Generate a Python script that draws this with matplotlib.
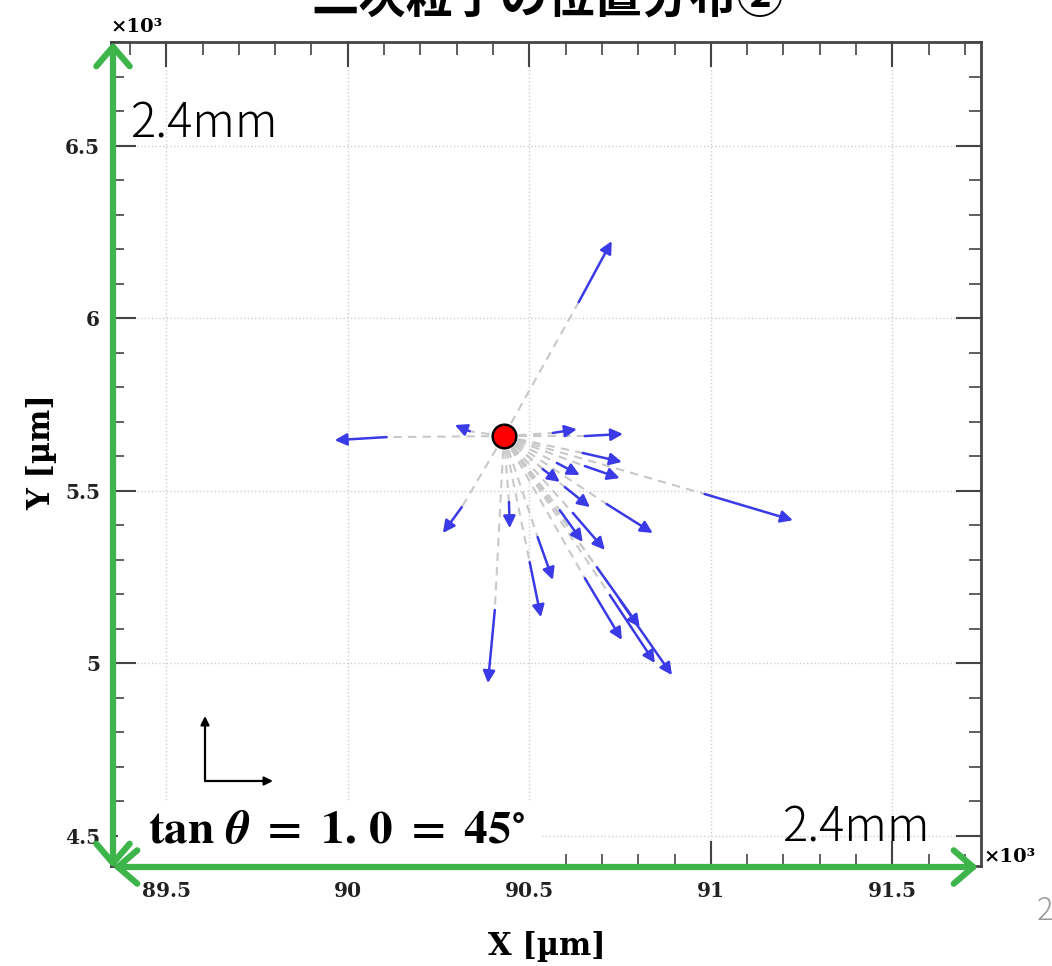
import numpy as np
import matplotlib
matplotlib.use("Agg")
import matplotlib.pyplot as plt
from matplotlib.patches import FancyArrowPatch, Rectangle
from matplotlib.ticker import MultipleLocator, FuncFormatter

plt.rcParams['mathtext.fontset'] = 'stix'

# data in units of 10^3 um
origin_x = 90.430
origin_y = 5.658

# start (tail) and end (tip) of each secondary particle track
tail_x = [90.107, 90.336, 90.636, 90.565, 90.653, 90.647, 90.653, 90.576, 90.537, 90.598,
          90.713, 90.983, 90.314, 90.444, 90.584, 90.620, 90.523, 90.501, 90.405, 90.653,
          90.686, 90.722, 90.749]
tail_y = [5.655, 5.672, 6.046, 5.667, 5.658, 5.609, 5.571, 5.580, 5.562, 5.510,
          5.461, 5.490, 5.452, 5.467, 5.443, 5.435, 5.365, 5.293, 5.154, 5.246,
          5.278, 5.197, 5.183]
tip_x = [89.964, 90.295, 90.727, 90.631, 90.758, 90.755, 90.749, 90.639, 90.584, 90.667,
         90.840, 91.226, 90.262, 90.446, 90.647, 90.708, 90.565, 90.532, 90.386, 90.755,
         90.804, 90.846, 90.893]
tip_y = [5.646, 5.690, 6.223, 5.678, 5.664, 5.583, 5.536, 5.545, 5.525, 5.452,
         5.377, 5.414, 5.377, 5.391, 5.351, 5.328, 5.241, 5.133, 4.942, 5.067,
         5.104, 5.000, 4.965]

xlim = (89.348, 91.744)
ylim = (4.412, 6.800)

W, H = 1052, 966
green = '#3db54a'
serif = 'DejaVu Serif'
jp = ['Noto Sans CJK JP', 'DejaVu Sans']


def fxy(px, py):
    # top-left pixel position -> figure fraction
    return px / W, 1 - py / H


fig = plt.figure(figsize=(W / 100, H / 100), dpi=100)
ax = fig.add_axes([111 / W, 1 - 866 / H, 870 / W, 824 / H])

ax.set_xlim(*xlim)
ax.set_ylim(*ylim)
ax.xaxis.set_major_locator(MultipleLocator(0.5))
ax.xaxis.set_minor_locator(MultipleLocator(0.1))
ax.yaxis.set_major_locator(MultipleLocator(0.5))
ax.yaxis.set_minor_locator(MultipleLocator(0.1))
fmt = FuncFormatter(lambda v, p: f'{v:g}')
ax.xaxis.set_major_formatter(fmt)
ax.yaxis.set_major_formatter(fmt)
ax.tick_params(which='both', direction='in', top=True, right=True, colors='#444444')
ax.tick_params(which='major', length=18, width=1.5)
ax.tick_params(which='minor', length=9, width=1.2)
ax.tick_params(axis='x', pad=11)
ax.tick_params(axis='y', pad=8)
for lab in ax.get_xticklabels() + ax.get_yticklabels():
    lab.set_fontfamily(serif)
    lab.set_fontweight('bold')
    lab.set_fontsize(14.5)
    lab.set_color('#222222')
for sp in ax.spines.values():
    sp.set_color('#444444')
    sp.set_linewidth(2)
ax.grid(True, which='major', linestyle=':', color='#cfcfcf', linewidth=1)

# dashed lines from the vertex to each track start
for x0, y0 in zip(tail_x, tail_y):
    ax.plot([origin_x, x0], [origin_y, y0], color='#c8c8c8', lw=1.5,
            dashes=(4, 3), zorder=2)

# tracks
for x0, y0, x1, y1 in zip(tail_x, tail_y, tip_x, tip_y):
    ax.annotate('', xy=(x1, y1), xytext=(x0, y0),
                arrowprops=dict(arrowstyle='-|>,head_length=0.6,head_width=0.3',
                                color='#3a3ae6', lw=1.8, mutation_scale=12,
                                shrinkA=0, shrinkB=0), zorder=3)

ax.plot([origin_x], [origin_y], 'o', ms=17, mfc='#ff0000', mec='black', mew=1.8, zorder=5)

# white box under the formula
fig.add_artist(Rectangle(fxy(118, 866), 424 / W, 64 / H, transform=fig.transFigure,
                         facecolor='white', edgecolor='none', zorder=3))

# green scale arrows
hs = 'head_length=14,head_width=12'
fig.add_artist(FancyArrowPatch(fxy(113, 868), fxy(113, 42), transform=fig.transFigure,
                               arrowstyle='<->,' + hs, color=green, lw=4.5,
                               mutation_scale=1, shrinkA=0, shrinkB=0, zorder=5))
fig.add_artist(FancyArrowPatch(fxy(113, 867), fxy(978, 867), transform=fig.transFigure,
                               arrowstyle='<->,' + hs, color=green, lw=4.5,
                               mutation_scale=1, shrinkA=0, shrinkB=0, zorder=5))

# small axes sketch
for p1 in [fxy(205, 716), fxy(273, 781)]:
    fig.add_artist(FancyArrowPatch(fxy(205, 781), p1, transform=fig.transFigure,
                                   arrowstyle='-|>,head_length=5,head_width=2.5',
                                   color='black', lw=1.6, mutation_scale=1,
                                   shrinkA=0, shrinkB=0, zorder=5))

# texts
x, y = fxy(548, 13)
fig.text(x, y, '二次粒子の位置分布②', ha='center', va='baseline', fontsize=34,
         fontweight='bold', family=jp)
x, y = fxy(130, 124)
fig.text(x, y, '2.4mm', ha='left', va='center', fontsize=34, fontweight='light', family=jp, zorder=6)
x, y = fxy(930, 828)
fig.text(x, y, '2.4mm', ha='right', va='center', fontsize=34, fontweight='light', family=jp, zorder=6)
x, y = fxy(148, 830)
fig.text(x, y, r'$\mathbf{tan}\ \boldsymbol{\theta}\ \mathbf{=}\ \mathbf{1.\,0}\ \mathbf{=}\ \mathbf{45^{\circ}}$',
         ha='left', va='center', fontsize=34, zorder=6)
x, y = fxy(110, 27)
fig.text(x, y, '×10³', ha='left', va='center', fontsize=14, fontweight='bold', family=serif)
x, y = fxy(983, 857)
fig.text(x, y, '×10³', ha='left', va='center', fontsize=14, fontweight='bold', family=serif)
x, y = fxy(547, 946)
fig.text(x, y, 'X [µm]', ha='center', va='center', fontsize=22, fontweight='bold', family=serif)
x, y = fxy(42, 452)
fig.text(x, y, 'Y [µm]', ha='center', va='center', fontsize=22, fontweight='bold',
         family=serif, rotation=90)
x, y = fxy(1037, 911)
fig.text(x, y, '2', ha='left', va='center', fontsize=22, color='#999999', fontweight='light', family=jp)

fig.savefig('out.png', dpi=100)
